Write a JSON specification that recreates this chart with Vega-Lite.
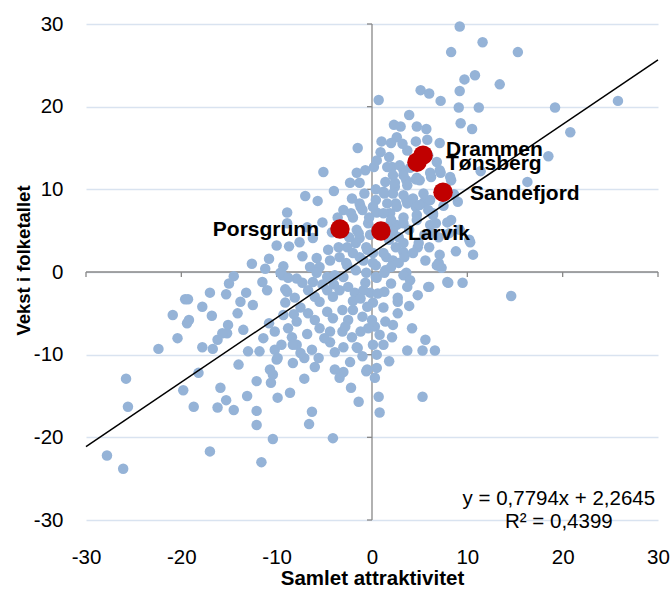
{
  "$schema": "https://vega.github.io/schema/vega-lite/v6.json",
  "width": 572,
  "height": 496,
  "autosize": {"type": "none"},
  "padding": {"left": 86, "top": 24, "right": 14, "bottom": 72},
  "background": "white",
  "config": {
    "view": {"stroke": null},
    "font": "Liberation Sans",
    "axis": {
      "labelFont": "Liberation Sans",
      "labelFontSize": 20.5,
      "labelColor": "#000000",
      "labelExpr": "'' + datum.value",
      "labelFlush": false,
      "labelOverlap": false,
      "titleFont": "Liberation Sans",
      "titleFontWeight": "bold",
      "titleColor": "#000000",
      "domain": false,
      "ticks": false,
      "tickSize": 0
    }
  },
  "datasets": {
    "pts": [
      {"x":9.2,"y":29.7},{"x":11.6,"y":27.8},{"x":8.3,"y":26.6},{"x":15.3,"y":26.6},{"x":9.7,"y":23.3},{"x":10.8,"y":23.8},{"x":13.4,"y":22.7},{"x":5.1,"y":22.0},{"x":6.0,"y":21.6},{"x":9.2,"y":21.9},
      {"x":0.7,"y":20.8},{"x":7.2,"y":20.7},{"x":9.1,"y":19.9},{"x":11.2,"y":19.9},{"x":25.8,"y":20.7},{"x":19.2,"y":19.9},{"x":20.8,"y":16.9},{"x":18.5,"y":14.0},{"x":16.3,"y":10.9},{"x":3.9,"y":19.0},
      {"x":2.3,"y":17.8},{"x":3.0,"y":17.6},{"x":4.7,"y":17.6},{"x":5.7,"y":17.3},{"x":9.3,"y":18.0},{"x":10.5,"y":17.3},{"x":2.6,"y":16.3},{"x":2.0,"y":15.6},{"x":-1.5,"y":15.0},{"x":0.9,"y":14.5},
      {"x":7.1,"y":15.6},{"x":1.8,"y":13.9},{"x":-0.7,"y":12.3},{"x":0.2,"y":12.7},{"x":2.1,"y":12.7},{"x":3.3,"y":12.3},{"x":-2.3,"y":10.8},{"x":-1.3,"y":10.8},{"x":0.4,"y":10.0},{"x":1.3,"y":9.5},
      {"x":2.4,"y":10.3},{"x":3.6,"y":11.1},{"x":4.6,"y":11.2},{"x":6.2,"y":11.5},{"x":7.2,"y":12.0},{"x":8.3,"y":11.1},{"x":11.4,"y":12.2},{"x":-2.1,"y":8.9},{"x":-1.2,"y":7.9},{"x":-3.0,"y":7.5},
      {"x":0.4,"y":8.7},{"x":2.5,"y":8.3},{"x":3.6,"y":8.7},{"x":4.6,"y":7.9},{"x":5.5,"y":8.5},{"x":6.4,"y":7.1},{"x":8.3,"y":6.3},{"x":7.0,"y":4.2},{"x":10.2,"y":3.9},{"x":10.6,"y":2.1},
      {"x":5.6,"y":1.4},{"x":7.0,"y":1.1},{"x":4.8,"y":3.0},{"x":2.5,"y":3.0},{"x":1.5,"y":1.8},{"x":0.4,"y":0.8},{"x":-1.7,"y":3.5},{"x":3.6,"y":-0.1},{"x":6.0,"y":-1.8},{"x":8.0,"y":-1.3},
      {"x":9.5,"y":-1.3},{"x":14.6,"y":-2.9},{"x":4.8,"y":-2.8},{"x":2.7,"y":-3.1},{"x":1.3,"y":-2.4},{"x":3.7,"y":14.7},{"x":5.9,"y":14.1},{"x":6.8,"y":13.3},{"x":7.1,"y":12.3},{"x":8.2,"y":11.5},
      {"x":1.6,"y":12.7},{"x":2.9,"y":12.9},{"x":4.0,"y":12.6},{"x":2.2,"y":11.7},{"x":3.3,"y":11.7},{"x":4.7,"y":11.4},{"x":6.1,"y":12.0},{"x":1.4,"y":10.9},{"x":2.4,"y":10.8},{"x":3.7,"y":10.5},
      {"x":5.0,"y":11.1},{"x":1.2,"y":9.7},{"x":2.2,"y":9.5},{"x":3.3,"y":9.3},{"x":4.3,"y":8.9},{"x":5.4,"y":9.5},{"x":6.1,"y":8.7},{"x":1.6,"y":8.3},{"x":2.6,"y":7.9},{"x":3.7,"y":8.3},
      {"x":5.0,"y":8.1},{"x":5.9,"y":7.5},{"x":0.5,"y":7.2},{"x":1.9,"y":7.1},{"x":3.3,"y":6.6},{"x":4.7,"y":6.9},{"x":6.4,"y":6.9},{"x":2.6,"y":5.7},{"x":3.3,"y":5.9},{"x":4.7,"y":6.3},
      {"x":6.1,"y":5.7},{"x":7.9,"y":6.0},{"x":9.2,"y":5.1},{"x":10.3,"y":3.6},{"x":7.1,"y":2.1},{"x":6.8,"y":0.8},{"x":7.3,"y":0.5},{"x":3.3,"y":2.4},{"x":2.2,"y":1.4},{"x":1.2,"y":2.3},
      {"x":0.1,"y":1.1},{"x":1.4,"y":0.2},{"x":0.5,"y":-0.7},{"x":3.3,"y":-0.4},{"x":4.0,"y":-1.0},{"x":3.7,"y":-1.8},{"x":5.9,"y":-1.8},{"x":7.9,"y":-1.2},{"x":3.9,"y":-4.1},{"x":2.7,"y":-3.6},
      {"x":1.2,"y":-4.3},{"x":0.1,"y":-3.7},{"x":1.4,"y":-6.0},{"x":2.2,"y":-6.4},{"x":0.3,"y":-6.6},{"x":0.8,"y":-7.6},{"x":2.1,"y":-7.9},{"x":1.2,"y":-8.8},{"x":0.1,"y":-8.8},{"x":5.6,"y":-8.2},
      {"x":3.7,"y":-9.5},{"x":5.3,"y":-9.5},{"x":6.6,"y":-9.5},{"x":0.5,"y":-10.0},{"x":0.5,"y":-11.6},{"x":-0.6,"y":-12.0},{"x":0.3,"y":-12.8},{"x":-2.2,"y":-14.0},{"x":0.7,"y":-15.1},{"x":5.3,"y":-15.1},
      {"x":-1.4,"y":-15.7},{"x":0.8,"y":-17.0},{"x":-3.0,"y":-12.1},{"x":-1.5,"y":-9.2},{"x":-27.8,"y":-22.2},{"x":-26.1,"y":-23.8},{"x":-25.8,"y":-12.9},{"x":-25.6,"y":-16.3},{"x":-22.4,"y":-9.3},{"x":-20.9,"y":-5.2},
      {"x":-20.4,"y":-8.0},{"x":-19.8,"y":-14.3},{"x":-19.6,"y":-3.3},{"x":-19.3,"y":-3.3},{"x":-19.4,"y":-6.2},{"x":-19.2,"y":-5.8},{"x":-18.7,"y":-16.3},{"x":-17.8,"y":-9.1},{"x":-17.0,"y":-2.5},{"x":-16.8,"y":-5.3},
      {"x":-16.7,"y":-9.3},{"x":-17.0,"y":-21.7},{"x":-16.2,"y":-8.2},{"x":-15.9,"y":-14.0},{"x":-16.2,"y":-16.4},{"x":-15.3,"y":-15.5},{"x":-15.2,"y":-7.4},{"x":-15.1,"y":-6.4},{"x":-15.3,"y":-2.7},{"x":-14.5,"y":-16.7},
      {"x":-14.1,"y":-5.0},{"x":-13.2,"y":-2.5},{"x":-13.1,"y":-15.0},{"x":-12.1,"y":-13.2},{"x":-12.1,"y":-16.8},{"x":-12.1,"y":-18.5},{"x":-11.6,"y":-23.0},{"x":-11.0,"y":-2.2},{"x":-10.8,"y":-6.2},{"x":-10.7,"y":-11.8},
      {"x":-10.6,"y":-13.4},{"x":-10.4,"y":-20.2},{"x":-10.2,"y":-9.4},{"x":-10.0,"y":-10.6},{"x":-9.9,"y":-15.2},{"x":-9.3,"y":-5.2},{"x":-8.6,"y":-14.6},{"x":-8.8,"y":-6.8},{"x":-8.4,"y":-7.9},{"x":-8.3,"y":-11.0},
      {"x":-7.9,"y":-8.8},{"x":-7.1,"y":-12.9},{"x":-7.1,"y":-10.4},{"x":-6.6,"y":-18.4},{"x":-6.3,"y":-16.9},{"x":-6.3,"y":-9.4},{"x":-6.0,"y":-11.5},{"x":-5.6,"y":-10.4},{"x":-4.1,"y":-20.1},{"x":-3.9,"y":-11.8},
      {"x":-5.1,"y":12.1},{"x":-7.0,"y":9.2},{"x":-5.7,"y":8.6},{"x":-8.9,"y":7.2},{"x":-8.9,"y":5.9},{"x":-6.8,"y":5.4},{"x":-8.7,"y":3.1},{"x":-7.6,"y":3.6},{"x":-6.2,"y":4.1},{"x":-7.3,"y":1.9},
      {"x":-10.8,"y":1.6},{"x":-11.2,"y":0.4},{"x":-9.3,"y":0.7},{"x":-9.4,"y":-0.4},{"x":-5.8,"y":1.7},{"x":-6.5,"y":0.6},{"x":-5.5,"y":0.6},{"x":-4.6,"y":2.7},{"x":-14.5,"y":-0.5},{"x":-15.0,"y":-1.4},
      {"x":-11.5,"y":-1.2},{"x":-7.9,"y":-0.8},{"x":-9.1,"y":-2.1},{"x":-1.3,"y":8.3},{"x":-1.0,"y":7.5},{"x":-2.0,"y":6.6},{"x":-0.4,"y":5.9},{"x":-1.6,"y":5.1},{"x":-1.3,"y":4.1},{"x":-4.4,"y":1.4},
      {"x":-2.6,"y":3.0},{"x":-3.4,"y":1.8},{"x":-2.6,"y":0.8},{"x":-1.3,"y":1.8},{"x":-0.5,"y":2.7},{"x":-9.6,"y":-0.1},{"x":-8.8,"y":-0.7},{"x":-8.9,"y":-2.4},{"x":-9.1,"y":-3.7},{"x":-8.1,"y":-3.1},
      {"x":-7.3,"y":-1.3},{"x":-5.8,"y":-0.1},{"x":-4.7,"y":-0.6},{"x":-3.9,"y":-0.4},{"x":-3.0,"y":-0.6},{"x":-6.7,"y":-2.2},{"x":-6.0,"y":-3.0},{"x":-5.5,"y":-3.6},{"x":-4.7,"y":-2.2},{"x":-4.1,"y":-3.0},
      {"x":-3.4,"y":-2.2},{"x":-2.5,"y":-1.8},{"x":-1.8,"y":-2.5},{"x":-0.7,"y":-1.3},{"x":-0.2,"y":-2.5},{"x":-15.7,"y":-7.4},{"x":-11.4,"y":-8.0},{"x":-10.2,"y":-7.2},{"x":-7.9,"y":-6.0},{"x":-6.7,"y":-5.0},
      {"x":-6.0,"y":-5.8},{"x":-5.5,"y":-6.8},{"x":-4.7,"y":-4.8},{"x":-4.1,"y":-5.6},{"x":-3.1,"y":-4.6},{"x":-2.5,"y":-5.8},{"x":-2.0,"y":-4.6},{"x":-1.0,"y":-5.4},{"x":-0.5,"y":-4.2},{"x":0.0,"y":-5.8},
      {"x":-4.4,"y":-7.2},{"x":-3.1,"y":-7.2},{"x":-2.1,"y":-7.9},{"x":-4.4,"y":-8.5},{"x":-3.0,"y":-9.1},{"x":-1.6,"y":-9.1},{"x":-3.9,"y":-9.7},{"x":-9.9,"y":-10.4},{"x":-8.3,"y":-8.8},{"x":-2.3,"y":-10.9},
      {"x":-3.4,"y":-12.8},{"x":-0.5,"y":-11.8},{"x":-10.4,"y":-12.4},{"x":-3.0,"y":5.4},{"x":-2.4,"y":4.2},{"x":-1.4,"y":4.7},{"x":-3.5,"y":3.0},{"x":-2.0,"y":2.3},{"x":-0.9,"y":1.4},{"x":-2.7,"y":1.1},
      {"x":-1.7,"y":0.2},{"x":-0.6,"y":-0.1},{"x":-0.9,"y":-2.2},{"x":0.4,"y":-0.6},{"x":1.3,"y":-0.1},{"x":2.0,"y":0.6},{"x":2.8,"y":1.1},{"x":3.4,"y":1.8},{"x":4.3,"y":2.3},{"x":4.9,"y":3.5},
      {"x":3.3,"y":3.5},{"x":2.8,"y":4.2},{"x":3.9,"y":5.1},{"x":1.8,"y":3.9},{"x":-0.6,"y":3.0},{"x":0.1,"y":2.3},{"x":-0.3,"y":6.6},{"x":1.2,"y":7.1},{"x":2.0,"y":6.3},{"x":0.1,"y":7.9},
      {"x":-2.2,"y":7.1},{"x":6.4,"y":4.7},{"x":6.7,"y":5.9},{"x":8.1,"y":4.7},
      {"x":-12.5,"y":-4.0},{"x":-13.5,"y":-7.0},{"x":-11.8,"y":-9.6},{"x":-9.5,"y":-8.8},{"x":-7.5,"y":-4.3},{"x":-8.2,"y":-5.1},{"x":-5.2,"y":-1.5},{"x":-6.2,"y":-1.2},{"x":-4.0,"y":-1.5},{"x":-2.0,"y":-3.5},
      {"x":-1.2,"y":-3.2},{"x":-0.4,"y":-6.8},{"x":-1.2,"y":-7.2},{"x":-1.0,"y":-10.2},{"x":-2.8,"y":-6.6},{"x":-5.0,"y":-8.0},{"x":-6.8,"y":-7.5},{"x":-7.5,"y":-9.8},{"x":1.8,"y":-10.8},{"x":2.7,"y":-5.0},
      {"x":4.2,"y":-6.8},{"x":0.6,"y":-2.6},{"x":2.0,"y":-1.4},{"x":1.0,"y":15.8},{"x":3.2,"y":15.5},{"x":4.6,"y":15.8},{"x":5.8,"y":16.0},{"x":0.5,"y":13.5},{"x":-0.8,"y":9.5},{"x":-1.6,"y":12.0},
      {"x":1.6,"y":5.5},{"x":2.2,"y":4.9},{"x":-0.2,"y":4.5},{"x":5.5,"y":4.5},{"x":6.0,"y":3.0},{"x":8.8,"y":2.5},{"x":9.0,"y":8.5},{"x":7.5,"y":8.0},{"x":8.6,"y":9.4},{"x":-4.2,"y":4.8},
      {"x":-5.2,"y":6.0},{"x":-4.0,"y":9.8},{"x":-3.6,"y":6.6},{"x":-10.0,"y":3.2},{"x":-12.6,"y":1.0},{"x":-13.8,"y":-3.6},{"x":-17.8,"y":-4.2},{"x":-18.2,"y":-12.2},{"x":-14.0,"y":-11.2},{"x":-13.0,"y":-9.6}
    ],
    "red": [
      {"name":"Porsgrunn","x":-3.36,"y":5.19},
      {"name":"Larvik","x":0.94,"y":4.95},
      {"name":"Drammen","x":5.35,"y":14.13},
      {"name":"Tønsberg","x":4.72,"y":13.29},
      {"name":"Sandefjord","x":7.45,"y":9.66}
    ]
  },
  "layer": [
    {
      "data": {"name": "pts"},
      "mark": {"type": "circle", "size": 110, "color": "#95b3d7", "opacity": 0},
      "encoding": {
        "x": {
          "field": "x", "type": "quantitative", "title": "Samlet attraktivitet",
          "scale": {"domain": [-30, 30], "nice": false, "zero": false},
          "axis": {"values": [-30, -20, -10, 0, 10, 20, 30], "grid": false, "labelPadding": 27, "titleFontSize": 20.5, "titlePadding": 1}
        },
        "y": {
          "field": "y", "type": "quantitative", "title": "Vekst i folketallet",
          "scale": {"domain": [-30, 30], "nice": false, "zero": false},
          "axis": {"values": [-30, -20, -10, 0, 10, 20, 30], "grid": true, "gridColor": "#d9e3f0", "gridWidth": 1.3, "labelPadding": 23, "titleFontSize": 18.5, "titleX": -53, "titleY": 236}
        }
      }
    },
    {
      "data": {"values": [{"x": -30, "x2": 30, "y": 0}]},
      "mark": {"type": "rule", "color": "#888888", "strokeWidth": 1.3},
      "encoding": {
        "x": {"field": "x", "type": "quantitative", "title": "Samlet attraktivitet"},
        "x2": {"field": "x2"},
        "y": {"field": "y", "type": "quantitative", "title": "Vekst i folketallet"}
      }
    },
    {
      "data": {"values": [{"x": 0, "y": -30, "y2": 30}]},
      "mark": {"type": "rule", "color": "#888888", "strokeWidth": 1.3},
      "encoding": {
        "x": {"field": "x", "type": "quantitative", "title": "Samlet attraktivitet"},
        "y": {"field": "y", "type": "quantitative", "title": "Vekst i folketallet"},
        "y2": {"field": "y2"}
      }
    },
    {
      "data": {"values": [{"x": 0, "y": -30}, {"x": 0, "y": -20}, {"x": 0, "y": -10}, {"x": 0, "y": 0}, {"x": 0, "y": 10}, {"x": 0, "y": 20}, {"x": 0, "y": 30}]},
      "mark": {"type": "tick", "orient": "horizontal", "size": 5, "thickness": 1.3, "color": "#888888", "xOffset": -2.5, "opacity": 1},
      "encoding": {
        "x": {"field": "x", "type": "quantitative", "title": "Samlet attraktivitet"},
        "y": {"field": "y", "type": "quantitative", "title": "Vekst i folketallet"}
      }
    },
    {
      "data": {"values": [{"x": -30, "y": 0}, {"x": -20, "y": 0}, {"x": -10, "y": 0}, {"x": 0, "y": 0}, {"x": 10, "y": 0}, {"x": 20, "y": 0}, {"x": 30, "y": 0}]},
      "mark": {"type": "tick", "orient": "vertical", "size": 5, "thickness": 1.3, "color": "#888888", "yOffset": 2.5, "opacity": 1},
      "encoding": {
        "x": {"field": "x", "type": "quantitative", "title": "Samlet attraktivitet"},
        "y": {"field": "y", "type": "quantitative", "title": "Vekst i folketallet"}
      }
    },
    {
      "data": {"name": "pts"},
      "mark": {"type": "circle", "size": 110, "color": "#95b3d7", "opacity": 1},
      "encoding": {
        "x": {"field": "x", "type": "quantitative", "title": "Samlet attraktivitet"},
        "y": {"field": "y", "type": "quantitative", "title": "Vekst i folketallet"}
      }
    },
    {
      "data": {"values": [{"x": -30, "y": -21.118}, {"x": 30, "y": 25.647}]},
      "mark": {"type": "line", "color": "#000000", "strokeWidth": 1.5},
      "encoding": {
        "x": {"field": "x", "type": "quantitative", "title": "Samlet attraktivitet"},
        "y": {"field": "y", "type": "quantitative", "title": "Vekst i folketallet"}
      }
    },
    {
      "data": {"name": "red"},
      "mark": {"type": "circle", "size": 380, "color": "#c00000", "opacity": 1},
      "encoding": {
        "x": {"field": "x", "type": "quantitative", "title": "Samlet attraktivitet"},
        "y": {"field": "y", "type": "quantitative", "title": "Vekst i folketallet"}
      }
    },
    {
      "data": {"name": "red"},
      "transform": [{"filter": "datum.name === 'Porsgrunn'"}],
      "mark": {"type": "text", "align": "right", "baseline": "middle", "dx": -21, "dy": 1, "fontSize": 21, "fontWeight": "bold", "font": "Liberation Sans", "color": "#000000"},
      "encoding": {
        "x": {"field": "x", "type": "quantitative", "title": "Samlet attraktivitet"},
        "y": {"field": "y", "type": "quantitative", "title": "Vekst i folketallet"},
        "text": {"field": "name"}
      }
    },
    {
      "data": {"name": "red"},
      "transform": [{"filter": "datum.name === 'Larvik'"}],
      "mark": {"type": "text", "align": "left", "baseline": "middle", "dx": 27, "dy": 3, "fontSize": 21, "fontWeight": "bold", "font": "Liberation Sans", "color": "#000000"},
      "encoding": {
        "x": {"field": "x", "type": "quantitative", "title": "Samlet attraktivitet"},
        "y": {"field": "y", "type": "quantitative", "title": "Vekst i folketallet"},
        "text": {"field": "name"}
      }
    },
    {
      "data": {"name": "red"},
      "transform": [{"filter": "datum.name === 'Drammen'"}],
      "mark": {"type": "text", "align": "left", "baseline": "middle", "dx": 23, "dy": -5, "fontSize": 21, "fontWeight": "bold", "font": "Liberation Sans", "color": "#000000"},
      "encoding": {
        "x": {"field": "x", "type": "quantitative", "title": "Samlet attraktivitet"},
        "y": {"field": "y", "type": "quantitative", "title": "Vekst i folketallet"},
        "text": {"field": "name"}
      }
    },
    {
      "data": {"name": "red"},
      "transform": [{"filter": "datum.name === 'Tønsberg'"}],
      "mark": {"type": "text", "align": "left", "baseline": "middle", "dx": 29, "dy": 2, "fontSize": 21, "fontWeight": "bold", "font": "Liberation Sans", "color": "#000000"},
      "encoding": {
        "x": {"field": "x", "type": "quantitative", "title": "Samlet attraktivitet"},
        "y": {"field": "y", "type": "quantitative", "title": "Vekst i folketallet"},
        "text": {"field": "name"}
      }
    },
    {
      "data": {"name": "red"},
      "transform": [{"filter": "datum.name === 'Sandefjord'"}],
      "mark": {"type": "text", "align": "left", "baseline": "middle", "dx": 27, "dy": 2, "fontSize": 21, "fontWeight": "bold", "font": "Liberation Sans", "color": "#000000"},
      "encoding": {
        "x": {"field": "x", "type": "quantitative", "title": "Samlet attraktivitet"},
        "y": {"field": "y", "type": "quantitative", "title": "Vekst i folketallet"},
        "text": {"field": "name"}
      }
    },
    {
      "data": {"values": [{"x": 19.6, "y": -27.5, "t": "y = 0,7794x + 2,2645"}, {"x": 19.6, "y": -30.2, "t": "R² = 0,4399"}]},
      "mark": {"type": "text", "align": "center", "baseline": "middle", "fontSize": 20.5, "font": "Liberation Sans", "color": "#000000"},
      "encoding": {
        "x": {"field": "x", "type": "quantitative", "title": "Samlet attraktivitet"},
        "y": {"field": "y", "type": "quantitative", "title": "Vekst i folketallet"},
        "text": {"field": "t"}
      }
    }
  ]
}
